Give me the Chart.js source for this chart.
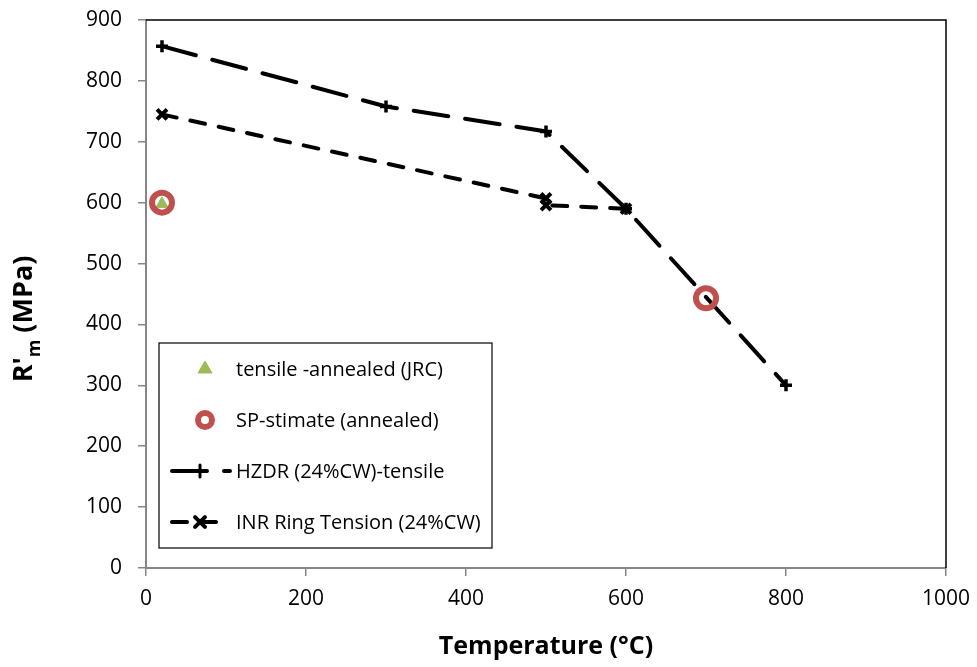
<!DOCTYPE html>
<html>
<head>
<meta charset="utf-8">
<script src="https://cdn.jsdelivr.net/npm/chart.js@4.4.1/dist/chart.umd.min.js"></script>
<style>
  html, body { margin: 0; padding: 0; background: #ffffff; }
  #wrap { width: 977px; height: 667px; }
</style>
</head>
<body>
<div id="wrap"><canvas id="c" width="977" height="667"></canvas></div>
<script>
// Temperatures (°C) and strength R'm (MPa) per series
const jrcTemp = [20];
const jrcRm = [598];
const spTemp = [20, 700];
const spRm = [600, 443];
const hzdrTemp = [20, 300, 500, 600, 800];
const hzdrRm = [857, 758, 717, 590, 300];
const inrTemp = [20, 500, 500, 600];
const inrRm = [745, 607, 596, 590];

const xTicks = [0, 200, 400, 600, 800, 1000];
const yTicks = [0, 100, 200, 300, 400, 500, 600, 700, 800, 900];

const seriesNames = [
  'tensile -annealed (JRC)',
  'SP-stimate (annealed)',
  'HZDR (24%CW)-tensile',
  'INR Ring Tension (24%CW)'
];

const FONT = '"Open Sans", "Noto Sans", sans-serif';
const AXIS_GREY = '#868686';

function pts(xs, ys) { return xs.map((x, i) => ({ x: x, y: ys[i] })); }

// Frame on top/right, rotated y title with subscript, and inset legend
const decorPlugin = {
  id: 'decor',
  afterDraw(chart) {
    const ctx = chart.ctx;
    const a = chart.chartArea;
    ctx.save();
    ctx.strokeStyle = '#000000';
    ctx.lineWidth = 1.5;
    ctx.beginPath();
    ctx.moveTo(a.left, a.top);
    ctx.lineTo(a.right, a.top);
    ctx.lineTo(a.right, a.bottom);
    ctx.stroke();

    // y-axis title: R'm (MPa) with subscript m
    ctx.translate(32, 319);
    ctx.rotate(-Math.PI / 2);
    ctx.fillStyle = '#000000';
    ctx.textBaseline = 'alphabetic';
    const big = 'bold 27px ' + FONT;
    const small = 'bold 18px ' + FONT;
    ctx.font = big;
    const w1 = ctx.measureText("R'").width;
    const w3 = ctx.measureText(' (MPa)').width;
    ctx.font = small;
    const w2 = ctx.measureText('m').width;
    let x = -(w1 + w2 + w3) / 2;
    ctx.font = big;
    ctx.fillText("R'", x, 0);
    x += w1;
    ctx.font = small;
    ctx.fillText('m', x, 8);
    x += w2;
    ctx.font = big;
    ctx.fillText(' (MPa)', x, 0);
    ctx.restore();

    // legend box
    ctx.save();
    const bx = 159, by = 343, bw = 333, bh = 205;
    ctx.fillStyle = '#ffffff';
    ctx.fillRect(bx, by, bw, bh);
    ctx.strokeStyle = '#000000';
    ctx.lineWidth = 1.2;
    ctx.strokeRect(bx, by, bw, bh);
    const rows = [369, 420, 471, 522];
    const ds = chart.data.datasets;
    rows.forEach((ry, i) => {
      const d = ds[i];
      ctx.save();
      if (d.showLine) {
        ctx.strokeStyle = d.borderColor;
        ctx.lineWidth = d.borderWidth;
        ctx.lineCap = 'round';
        ctx.setLineDash(d.borderDash);
        ctx.beginPath();
        ctx.moveTo(172, ry);
        ctx.lineTo(230, ry);
        ctx.stroke();
        ctx.setLineDash([]);
      }
      ctx.strokeStyle = d.pointBorderColor;
      ctx.fillStyle = d.pointBackgroundColor;
      ctx.lineWidth = d.legendBorder;
      Chart.helpers.drawPoint(ctx, {
        pointStyle: d.pointStyle,
        radius: d.legendRadius,
        borderWidth: d.legendBorder
      }, d.showLine ? 200 : 205, ry);
      ctx.restore();
      ctx.font = '20px ' + FONT;
      ctx.fillStyle = '#000000';
      ctx.textBaseline = 'middle';
      ctx.fillText(seriesNames[i], 236, ry + 1);
    });
    ctx.restore();
  }
};

const chart = new Chart(document.getElementById('c'), {
  type: 'scatter',
  data: {
    datasets: [
      {
        label: seriesNames[0],
        data: pts(jrcTemp, jrcRm),
        pointStyle: 'triangle',
        pointRadius: 7,
        legendRadius: 8,
        legendBorder: 1,
        pointBorderWidth: 1,
        pointBackgroundColor: '#9BBB59',
        pointBorderColor: '#9BBB59',
        borderColor: '#9BBB59',
        showLine: false,
        order: 1
      },
      {
        label: seriesNames[1],
        data: pts(spTemp, spRm),
        pointStyle: 'circle',
        pointRadius: 10,
        legendRadius: 7,
        legendBorder: 6,
        pointBorderWidth: 6,
        pointBackgroundColor: 'rgba(255,255,255,0)',
        pointBorderColor: '#C0504D',
        borderColor: '#C0504D',
        showLine: false,
        order: 0
      },
      {
        label: seriesNames[2],
        data: pts(hzdrTemp, hzdrRm),
        pointStyle: 'cross',
        pointRadius: 6,
        legendRadius: 6,
        legendBorder: 3,
        pointBorderWidth: 3.5,
        pointBorderColor: '#000000',
        pointBackgroundColor: '#000000',
        borderColor: '#000000',
        borderWidth: 4,
        borderDash: [35, 17],
        borderCapStyle: 'round',
        showLine: true,
        order: 3
      },
      {
        label: seriesNames[3],
        data: pts(inrTemp, inrRm),
        pointStyle: 'crossRot',
        pointRadius: 7,
        legendRadius: 7,
        legendBorder: 4,
        pointBorderWidth: 4,
        pointBorderColor: '#000000',
        pointBackgroundColor: '#000000',
        borderColor: '#000000',
        borderWidth: 4,
        borderDash: [15, 14],
        borderCapStyle: 'round',
        showLine: true,
        order: 2
      }
    ]
  },
  options: {
    responsive: false,
    animation: false,
    devicePixelRatio: 1,
    clip: false,
    layout: { padding: { top: 20, right: 31, left: 0, bottom: 0 } },
    plugins: {
      legend: { display: false },
      tooltip: { enabled: false }
    },
    scales: {
      x: {
        type: 'linear',
        min: 0,
        max: 1000,
        afterBuildTicks(s) { s.ticks = xTicks.map(v => ({ value: v })); },
        afterFit(s) { s.height = 99; s.paddingLeft = 0; s.paddingRight = 0; },
        grid: {
          display: true,
          drawOnChartArea: false,
          drawTicks: true,
          tickLength: 8,
          color: AXIS_GREY,
          lineWidth: 1.5
        },
        border: { display: true, color: AXIS_GREY, width: 2 },
        ticks: {
          color: '#000000',
          font: { family: FONT, size: 21 },
          padding: 10,
          maxRotation: 0,
          callback: v => String(v)
        },
        title: {
          display: true,
          text: 'Temperature (°C)',
          color: '#000000',
          font: { family: FONT, size: 25, weight: 'bold' },
          padding: { top: 0, bottom: 5 }
        }
      },
      y: {
        type: 'linear',
        min: 0,
        max: 900,
        afterBuildTicks(s) { s.ticks = yTicks.map(v => ({ value: v })); },
        afterFit(s) { s.width = 146; s.paddingTop = 0; s.paddingBottom = 0; },
        grid: {
          display: true,
          drawOnChartArea: false,
          drawTicks: true,
          tickLength: 8,
          color: AXIS_GREY,
          lineWidth: 1.5
        },
        border: { display: true, color: AXIS_GREY, width: 2 },
        ticks: {
          color: '#000000',
          font: { family: FONT, size: 21 },
          padding: 16,
          callback: v => String(v)
        }
      }
    }
  },
  plugins: [decorPlugin]
});
</script>
</body>
</html>
